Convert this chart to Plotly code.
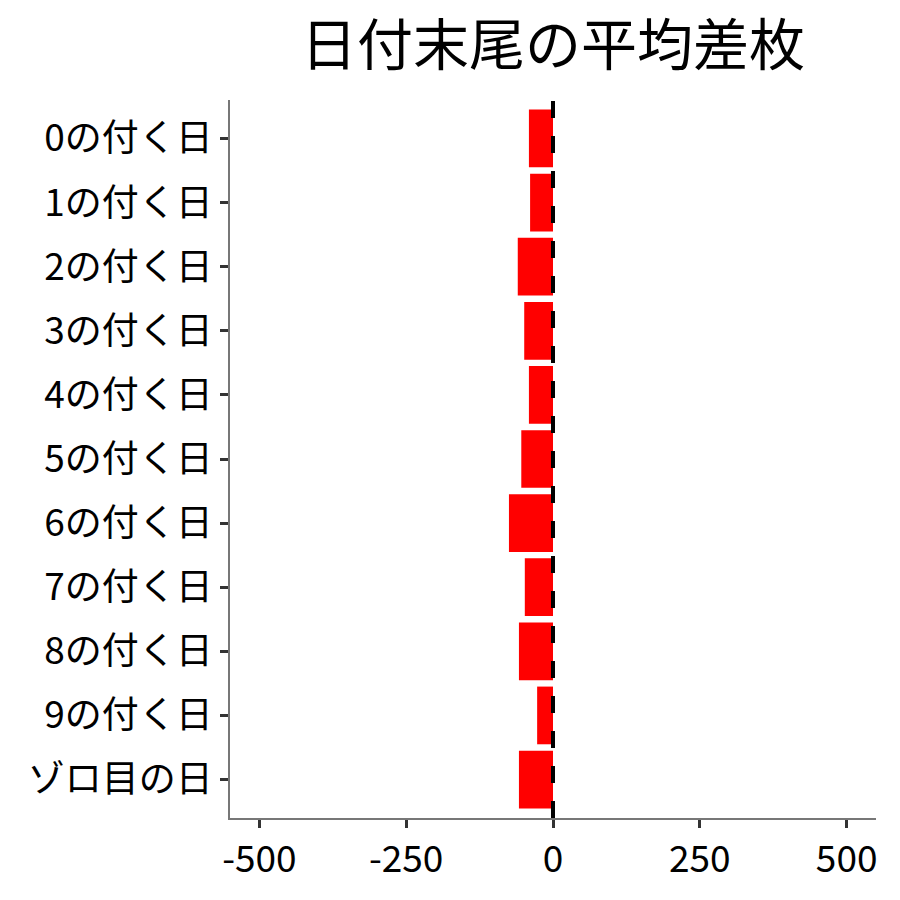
import plotly.graph_objects as go

# 日付末尾ごとの平均差枚
カテゴリ = ['0の付く日', '1の付く日', '2の付く日', '3の付く日', '4の付く日',
         '5の付く日', '6の付く日', '7の付く日', '8の付く日', '9の付く日', 'ゾロ目の日']
平均差枚 = [-41, -39, -60, -49, -41, -54, -75, -48, -58, -27, -58]
目盛 = [-500, -250, 0, 250, 500]

fig = go.Figure(go.Bar(
    x=平均差枚,
    y=カテゴリ,
    orientation='h',
    marker=dict(color='#FF0000', line=dict(width=0)),
    width=0.9,
))

# 0 の位置に破線
fig.add_shape(type='line', xref='x', yref='paper', x0=0, x1=0, y0=0, y1=1,
              line=dict(color='black', width=4, dash='17px,18px'), layer='above')

fig.update_layout(
    width=900, height=900,
    paper_bgcolor='white', plot_bgcolor='white',
    font=dict(family='Noto Sans CJK JP', color='black', size=37),
    title=dict(text='日付末尾の平均差枚', x=(553 - 8) / 900, xref='container', xanchor='center',
               y=1 - 37 / 900, yref='container', yanchor='middle', font=dict(size=56)),
    margin=dict(l=222, r=32, t=92, b=90),
    showlegend=False,
    bargap=0.1,
)
fig.update_xaxes(range=[-550, 550], tickvals=目盛, ticktext=[str(v) for v in 目盛],
                 showgrid=False, zeroline=False, showline=True, linecolor='#777777', linewidth=1.5,
                 ticks='outside', ticklen=8, tickwidth=3, tickcolor='#333333')
fig.update_yaxes(categoryorder='array', categoryarray=カテゴリ, range=[10.6, -0.6],
                 showgrid=False, zeroline=False, showline=True, linecolor='#777777', linewidth=1.5,
                 ticks='outside', ticklen=8, tickwidth=3, tickcolor='#333333')

fig.write_html('out.html')
